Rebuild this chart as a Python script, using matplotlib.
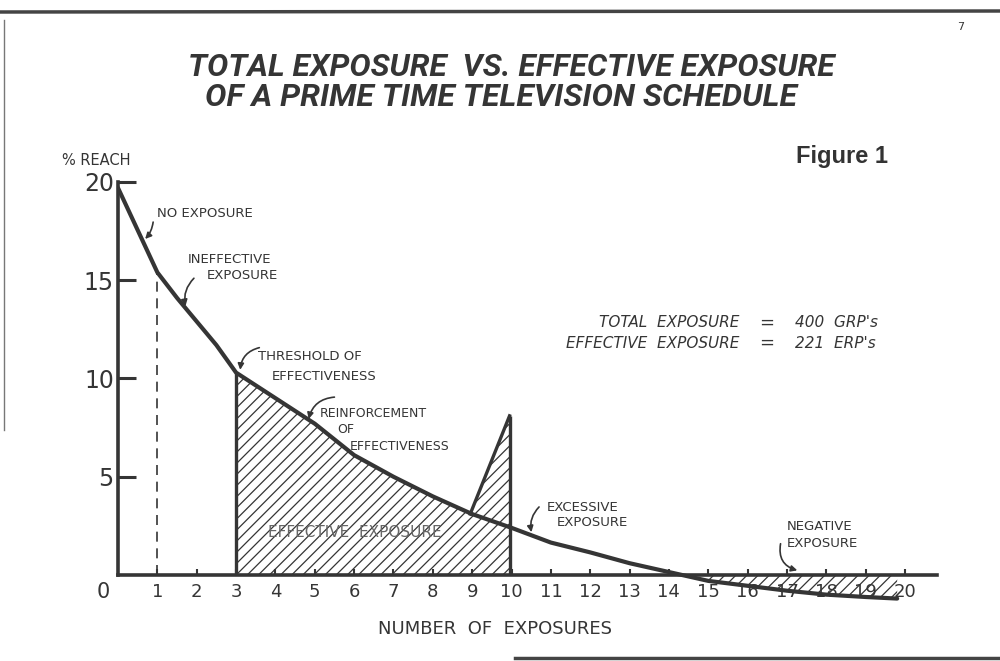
import matplotlib
matplotlib.use("Agg")
import matplotlib.pyplot as plt
from matplotlib.lines import Line2D

# --- data ---
exposures = [0, 0.5, 1, 1.5, 2, 2.5, 3, 4, 5, 6, 7, 8, 9, 10, 11, 12, 13, 14, 15, 16, 17, 18, 19, 19.8]
reach = [19.7, 17.55, 15.4, 14.1, 12.9, 11.7, 10.3, 9.0, 7.7, 6.1, 5.0, 4.0, 3.1, 2.4, 1.65, 1.15, 0.6, 0.15,
         -0.3, -0.55, -0.8, -1.0, -1.12, -1.2]
spike_x = [8.95, 9.95]
spike_y = [3.1, 8.1]
effective_range = (3, 10)
negative_start = 15
x_ticks = list(range(1, 21))
y_ticks = [5, 10, 15, 20]

INK = '#353535'
HAND = ['DejaVu Sans']
TITLE_FONT = ['Roboto', 'DejaVu Sans']

plt.rcParams['hatch.linewidth'] = 0.9
plt.rcParams['hatch.color'] = INK

fig = plt.figure(figsize=(10, 6.61), dpi=100)
fig.patch.set_facecolor('white')

# axes placed so that x=0 -> 118px, y=0 -> 575px
ax = fig.add_axes([0.118, 0.0558, 0.8264, 0.6986])
ax.set_xlim(0, 21)
ax.set_ylim(-2.5, 21)
ax.patch.set_alpha(0)

for s in ['top', 'right']:
    ax.spines[s].set_visible(False)
ax.spines['bottom'].set_position(('data', 0))
ax.spines['bottom'].set_bounds(0, 20.8)
ax.spines['left'].set_position(('data', 0))
ax.spines['left'].set_bounds(0, 20)
for s in ['bottom', 'left']:
    ax.spines[s].set_linewidth(2.6)
    ax.spines[s].set_color(INK)

ax.set_xticks(x_ticks)
ax.set_xticklabels([str(t) for t in x_ticks], fontsize=13, color=INK, family=HAND)
ax.set_yticks(y_ticks)
ax.set_yticklabels([str(t) for t in y_ticks], fontsize=17, color=INK, family=HAND)
ax.tick_params(axis='x', direction='in', length=4, width=1.5, color=INK, pad=6)
ax.tick_params(axis='y', direction='in', length=13, width=2.2, color=INK, pad=3)
ax.text(-0.38, -0.87, '0', fontsize=15, color=INK, ha='center', va='center', family=HAND)

# main reach curve
ax.plot(exposures, reach, color=INK, lw=3, solid_capstyle='round', solid_joinstyle='round', zorder=4)

# dashed line at one exposure
ax.vlines(1, 0, reach[exposures.index(1)], colors=INK, linestyles=(0, (6, 4)), lw=1.2)

# effective exposure (hatched) region
ex_x = [x for x in exposures if effective_range[0] <= x <= effective_range[1]]
ex_y = [reach[exposures.index(x)] for x in ex_x]
ax.fill_between(ex_x, 0, ex_y, facecolor='none', edgecolor=INK, hatch='///', linewidth=0)
ax.vlines(effective_range[0], 0, ex_y[0], colors=INK, lw=2.4)
ax.vlines(spike_x[1], 0, spike_y[1], colors=INK, lw=2.4)

# spike at 9-10 exposures
ax.plot(spike_x, spike_y, color=INK, lw=2.4)
sp_curve = reach[exposures.index(10)]
ax.fill(spike_x + [spike_x[1], spike_x[0]], spike_y + [sp_curve, spike_y[0]],
        facecolor='none', edgecolor=INK, hatch='///', linewidth=0)

# negative exposure region
ng_x = [x for x in exposures if x >= negative_start]
ng_y = [reach[exposures.index(x)] for x in ng_x]
ax.fill_between(ng_x, ng_y, 0, facecolor='none', edgecolor=INK, hatch='///', linewidth=0)

# annotations
def note(lines, end, start, rad=0.3, fs=9.5):
    for txt, (tx, ty) in lines:
        ax.text(tx, ty, txt, fontsize=fs, color=INK, family=HAND, va='center', ha='left')
    ax.annotate('', xy=end, xytext=start,
                arrowprops=dict(arrowstyle='-|>', color=INK, lw=1.2, mutation_scale=9,
                                connectionstyle=f'arc3,rad={rad}'))

note([('NO EXPOSURE', (0.99, 18.4))], (0.64, 17.0), (0.9, 18.1), rad=-0.2, fs=9.5)
note([('INEFFECTIVE', (1.78, 16.05)), ('EXPOSURE', (2.26, 15.25))], (1.73, 13.55), (1.98, 15.2), rad=0.3)
note([('THRESHOLD OF', (3.56, 11.1)), ('EFFECTIVENESS', (3.91, 10.1))], (3.1, 10.3), (3.66, 11.6), rad=0.4)
note([('REINFORCEMENT', (5.13, 8.2)), ('OF', (5.57, 7.4)), ('EFFECTIVENESS', (5.9, 6.56))],
     (4.83, 7.8), (5.57, 9.06), rad=0.4, fs=9)
note([('EXCESSIVE', (10.9, 3.41)), ('EXPOSURE', (11.16, 2.65))], (10.52, 2.04), (10.75, 3.56), rad=0.3)
note([('NEGATIVE', (17.0, 2.49)), ('EXPOSURE', (17.0, 1.58))], (17.33, 0.2), (16.85, 1.73), rad=0.5)

ax.text(6.02, 2.14, 'EFFECTIVE  EXPOSURE', fontsize=11, color='#666666', family=HAND,
        ha='center', va='center', zorder=5)

ax.text(-1.42, 21.1, '% REACH', fontsize=10.5, color=INK, family=HAND, ha='left', va='center')
ax.text(9.58, -2.75, 'NUMBER  OF  EXPOSURES', fontsize=13, color=INK, family=HAND,
        ha='center', va='center')

# totals block
for (lbl, val), yy in zip([('TOTAL  EXPOSURE', '400  GRP\'s'), ('EFFECTIVE  EXPOSURE', '221  ERP\'s')],
                          [12.85, 11.8]):
    ax.text(15.8, yy, lbl, fontsize=11, style='italic', color=INK, family=HAND, ha='right', va='center')
    ax.text(16.48, yy, '=', fontsize=13, color=INK, family=HAND, ha='center', va='center')
    ax.text(17.2, yy, val, fontsize=11, style='italic', color=INK, family=HAND, ha='left', va='center')

# title: fit each line to the width it has in the scan
renderer = fig.canvas.get_renderer()
for txt, cx, cy, width in [('TOTAL EXPOSURE  VS. EFFECTIVE EXPOSURE', 511, 68, 647),
                           ('OF A PRIME TIME TELEVISION SCHEDULE', 501, 98, 592)]:
    t = fig.text(cx / 1000, 1 - cy / 661, txt, fontsize=24, fontweight='bold', style='italic',
                 family=TITLE_FONT, color=INK, ha='center', va='center')
    w = t.get_window_extent(renderer).width
    t.set_fontsize(24 * width / w)

fig.text(0.842, 1 - 157 / 661, 'Figure 1', fontsize=17, fontweight='bold',
         family=['Liberation Sans', 'DejaVu Sans'], color='#333333', ha='center', va='center')
fig.text(0.961, 1 - 27 / 661, '7', fontsize=8, color=INK, ha='center', va='center')

# page edges from the scan
fig.add_artist(Line2D([0, 1], [1 - 12 / 661, 1 - 11 / 661], color='#444444', lw=2.5))
fig.add_artist(Line2D([0.004, 0.004], [0.35, 0.97], color='#777777', lw=1))
fig.add_artist(Line2D([0.515, 1], [1 - 658 / 661, 1 - 658 / 661], color='#444444', lw=2.5))

plt.savefig('out.png', dpi=100, facecolor='white')
plt.close()
